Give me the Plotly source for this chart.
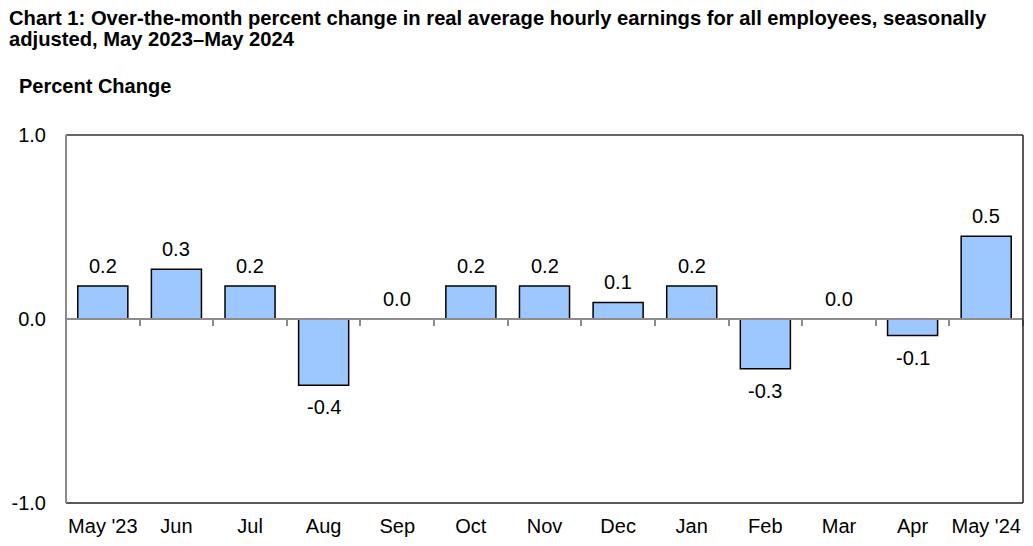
import plotly.graph_objects as go

months = ["May '23", "Jun", "Jul", "Aug", "Sep", "Oct", "Nov", "Dec", "Jan", "Feb", "Mar", "Apr", "May '24"]
values = [0.18, 0.27, 0.18, -0.36, 0.0, 0.18, 0.18, 0.09, 0.18, -0.27, 0.0, -0.09, 0.45]
labels = ["0.2", "0.3", "0.2", "-0.4", "0.0", "0.2", "0.2", "0.1", "0.2", "-0.3", "0.0", "-0.1", "0.5"]
y_ticks = [-1.0, 0.0, 1.0]
y_tick_labels = ["-1.0", "0.0", "1.0"]

FONT = "Liberation Sans, Arial, sans-serif"

fig = go.Figure()
fig.add_trace(go.Bar(
    x=months, y=values,
    marker=dict(color="#9cc8ff", line=dict(color="#000000", width=1.5)),
    hoverinfo="skip", showlegend=False,
))
# helper trace for the zero-line axis carrying category boundary ticks
fig.add_trace(go.Scatter(
    x=months, y=[None] * len(months), xaxis="x2", mode="markers",
    hoverinfo="skip", showlegend=False,
))

for m, v, lab in zip(months, values, labels):
    fig.add_annotation(
        x=m, y=v, text=lab, showarrow=False,
        yshift=20 if v >= 0 else -22, yanchor="middle",
        font=dict(family=FONT, size=20, color="#000000"),
    )

TITLE_FONT = dict(family=FONT, size=20.2, color="#000000")
fig.add_annotation(
    xref="paper", yref="paper", x=-0.0617, y=1.2609, xanchor="left", yanchor="middle",
    text="<b>adjusted, May 2023–May 2024</b>", showarrow=False, font=TITLE_FONT,
)
fig.add_annotation(
    xref="paper", yref="paper", x=-0.0512, y=1.1332, xanchor="left", yanchor="middle",
    text="<b>Percent Change</b>", showarrow=False, font=dict(family=FONT, size=20, color="#000000"),
)

# frame
fig.add_shape(type="line", xref="paper", yref="paper", x0=0, x1=1, y0=1, y1=1,
              line=dict(color="#333333", width=1.5))
fig.add_shape(type="line", xref="paper", yref="paper", x0=1, x1=1, y0=0, y1=1,
              line=dict(color="#222222", width=1.5))
fig.add_shape(type="line", xref="paper", yref="paper", x0=0, x1=1, y0=0, y1=0,
              line=dict(color="#222222", width=1.5))
fig.add_shape(type="line", xref="paper", yref="paper", x0=0, x1=0, y0=0, y1=1,
              line=dict(color="#8c8c8c", width=2))

fig.update_layout(
    width=1025, height=538,
    margin=dict(l=58, r=10, t=127, b=43, autoexpand=False),
    paper_bgcolor="#ffffff", plot_bgcolor="#ffffff",
    bargap=0.32,
    title=dict(
        text="<b>Chart 1: Over-the-month percent change in real average hourly earnings for all employees, seasonally</b>",
        x=0.001, xanchor="left", y=0.9944, yanchor="top",
        font=TITLE_FONT,
    ),
    xaxis=dict(
        type="category", range=[-0.5, 12.5], showgrid=False, zeroline=False,
        showline=False, ticks="", tickfont=dict(family=FONT, size=20, color="#000000"),
        ticklabelstandoff=9, automargin=False,
    ),
    xaxis2=dict(
        type="category", overlaying="x", anchor="free", position=0.5,
        range=[-0.5, 12.5], showgrid=False, zeroline=False,
        showline=True, linecolor="#8c8c8c", linewidth=2,
        ticks="outside", tickson="boundaries", ticklen=6, tickwidth=1.5, tickcolor="#8c8c8c",
        showticklabels=False, automargin=False,
    ),
    yaxis=dict(
        range=[-1.0, 1.0], tickvals=y_ticks, ticktext=y_tick_labels,
        showgrid=False, zeroline=False, showline=False, ticks="",
        ticklabelstandoff=19, automargin=False,
        tickfont=dict(family=FONT, size=20, color="#000000"),
    ),
)

fig.write_html("out.html")
